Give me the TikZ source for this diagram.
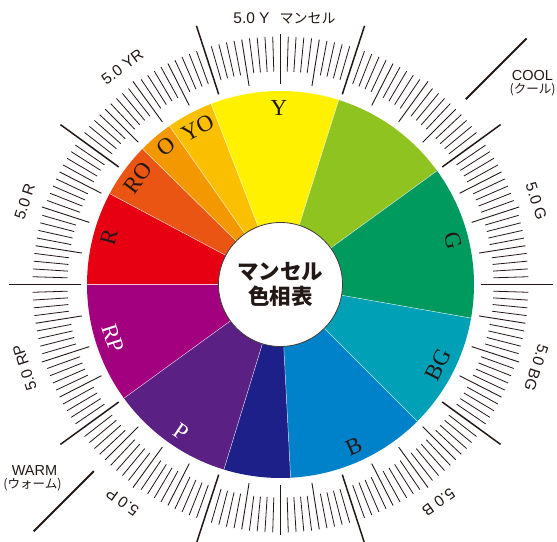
\documentclass[tikz,border=0pt]{standalone}
\usepackage{fontspec}
\setmainfont{Liberation Serif}
\newfontfamily\sansf{Liberation Sans}
\newfontfamily\cjk{Noto Sans CJK JP}
\definecolor{cR}{HTML}{E60012}
\definecolor{cRO}{HTML}{EA5514}
\definecolor{cO}{HTML}{F39800}
\definecolor{cYO}{HTML}{FAC000}
\definecolor{cY}{HTML}{FFF100}
\definecolor{cGY}{HTML}{8FC31F}
\definecolor{cG}{HTML}{009A5E}
\definecolor{cBG}{HTML}{00A0B7}
\definecolor{cB}{HTML}{0082CA}
\definecolor{cPB}{HTML}{1D2088}
\definecolor{cP}{HTML}{5A2084}
\definecolor{cRP}{HTML}{A3007F}
\definecolor{ink}{HTML}{231815}
\definecolor{rim}{HTML}{3E3A39}
\begin{document}
\begin{tikzpicture}[x=1pt,y=1pt,
  majortick/.style={draw=ink,line width=1.5pt},
  midtick/.style={draw=ink,line width=0.9pt},
  minortick/.style={draw=ink,line width=0.8pt},
  sepline/.style={draw=white,line width=0.5pt,opacity=0.7},
  scalelbl/.style={text=ink,inner sep=0pt,font=\sansf\fontsize{15.5}{18}\selectfont},
  huelbl/.style={inner sep=0pt,font=\fontsize{23}{25}\selectfont},
  themelbl/.style={text=ink,inner sep=0pt,font=\sansf\fontsize{14.5}{16}\selectfont},
  themesub/.style={text=ink,inner sep=0pt,font=\cjk\fontsize{12.5}{14}\selectfont},
  themeline/.style={draw=ink,line width=2pt},
  hub/.style={circle,fill=white,draw=rim,line width=0.8pt,minimum size=124pt,inner sep=0pt,
    align=center,text=ink,font=\cjk\bfseries\fontsize{21.5}{25}\selectfont}]
\useasboundingbox (-280.5,-256.5) rectangle (276.5,284.5);
\clip (-280.5,-256.5) rectangle (276.5,284.5);
% sectors
\foreach \a/\b/\c in {152/180/cR, 135.5/152/cRO, 125/135.5/cO, 111/125/cYO,
  72.5/111/cY, 36/72.5/cGY, -10/36/cG, -45/-10/cBG, -87/-45/cB,
  -107/-87/cPB, -144/-107/cP, -180/-144/cRP}
  \fill[\c] (0,0) -- (\a:193.5) arc[start angle=\a, end angle=\b, radius=193.5] -- cycle;
\foreach \a in {180,152,135.5,125,111,72.5,36,-10,-45,-87,-107,-144}
  \draw[sepline] (0,0) -- (\a:193.5);
% ticks
\foreach \i in {0,...,199} {
  \pgfmathtruncatemacro\m{mod(\i,20)}
  \pgfmathtruncatemacro\t{mod(\i,10)}
  \pgfmathtruncatemacro\n{mod(\i,5)}
  \ifnum\m=0
    \draw[majortick] (\i*1.8:200) -- (\i*1.8:272);
  \else\ifnum\t=0
    \draw[midtick] (\i*1.8:201) -- (\i*1.8:251);
  \else\ifnum\n=0
    \draw[midtick] (\i*1.8:201) -- (\i*1.8:248);
  \else
    \draw[minortick] (\i*1.8:213) -- (\i*1.8:248);
  \fi\fi\fi
}
% hub
\node[hub] (hub) at (0,0) {マンセル\\色相表};
% hue labels
\node[huelbl,text=ink,rotate=74.6] (hR) at (164.6:178) {R};
\node[huelbl,text=ink,rotate=53.2] (hRO) at (143.2:178) {RO};
\node[huelbl,text=ink,rotate=39.6] (hO) at (129.6:179) {O};
\node[huelbl,text=ink,rotate=27.9] (hYO) at (117.9:177) {YO};
\node[huelbl,text=ink] (hY) at (90.5:177) {Y};
\node[huelbl,text=ink,rotate=-75.6] (hG) at (14.4:178) {G};
\node[huelbl,text=ink,rotate=63.1] (hBG) at (-26.9:177) {BG};
\node[huelbl,text=ink,rotate=24.3] (hB) at (-65.7:178) {B};
\node[huelbl,text=white,rotate=-34] (hP) at (236:178) {P};
\node[huelbl,text=white,rotate=-72.2] (hRP) at (197.8:176) {RP};
% scale labels
\node[scalelbl] (sY) at (4,266) {5.0 Y\hspace{10pt}{\cjk\fontsize{14}{16}\selectfont マンセル}};
\foreach \ang/\txt/\nm in {126/5.0 YR/sYR, 162/5.0 R/sR, 198/5.0 RP/sRP, 234/5.0 P/sP,
  306/5.0 B/sB, 342/5.0 BG/sBG, 18/5.0 G/sG}
  \node[scalelbl,rotate=\ang-90] (\nm) at (\ang:269) {\txt};
% cool / warm
\coordinate (coolA) at (45:262);
\coordinate (coolB) at (45:348);
\draw[themeline] (coolA) -- (coolB);
\node[themelbl] (cool) at (252,208.5) {COOL};
\node[themesub] (coolj) at (252,194.5) {(クール)};
\coordinate (warmA) at (225:264);
\coordinate (warmB) at (225:349);
\draw[themeline] (warmA) -- (warmB);
\node[themelbl] (warm) at (-246,-186.5) {WARM};
\node[themesub] (warmj) at (-248,-200.5) {(ウォーム)};
\end{tikzpicture}
\end{document}
